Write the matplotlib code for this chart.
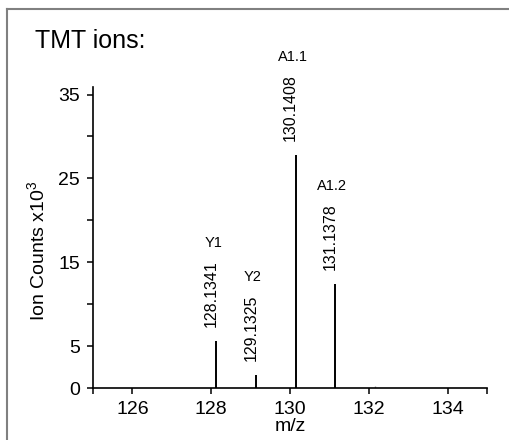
import matplotlib.pyplot as plt
from matplotlib.lines import Line2D

plt.rcParams['font.family'] = ['Liberation Sans', 'DejaVu Sans']
plt.rcParams['mathtext.fontset'] = 'custom'
plt.rcParams['mathtext.rm'] = 'Liberation Sans'

# peak data
peak_mz = [128.1341, 129.1325, 130.1408, 131.1378]
peak_counts = [5.6, 1.55, 27.8, 12.4]   # x10^3
peak_names = ['Y1', 'Y2', 'A1.1', 'A1.2']
noise_mz = [132.15]
noise_counts = [0.25]

x_ticks = [125, 126, 128, 130, 132, 134, 135]
x_ticklabels = ['', '126', '128', '130', '132', '134', '']
y_ticks = [0, 5, 10, 15, 20, 25, 30, 35]
y_ticklabels = ['0', '5', '', '15', '', '25', '', '35']

fig = plt.figure(figsize=(5.1, 4.4), dpi=100)
ax = fig.add_axes([93 / 510, 1 - 388 / 440, (487 - 93) / 510, (388 - 87) / 440])

ax.vlines(peak_mz, 0, peak_counts, color='black', lw=1.4)
ax.vlines(noise_mz, 0, noise_counts, color='#999999', lw=1.0)

for mz, h, name in zip(peak_mz, peak_counts, peak_names):
    ax.annotate(f'{mz:.4f}', (mz, h), xytext=(-5, 14), textcoords='offset pixels',
                rotation=90, ha='center', va='bottom', fontsize=11.5)
    ax.annotate(name, (mz, h), xytext=(-3, 91), textcoords='offset pixels',
                ha='center', va='bottom', fontsize=10.5)

ax.set_xlim(125, 135)
ax.set_ylim(0, 35.9)
ax.set_xticks(x_ticks)
ax.set_xticklabels(x_ticklabels)
ax.set_yticks(y_ticks)
ax.set_yticklabels(y_ticklabels)
ax.tick_params(axis='both', labelsize=14, length=4.5, width=1.1, direction='out')
ax.tick_params(axis='y', pad=5)
ax.tick_params(axis='x', pad=5)
for s in ['top', 'right']:
    ax.spines[s].set_visible(False)
for s in ['left', 'bottom']:
    ax.spines[s].set_linewidth(1.2)

fig.text(290 / 510, 1 - 431 / 440, 'm/z', fontsize=14, ha='center', va='baseline')
fig.text(38 / 510, 1 - 251 / 440, r'Ion Counts x10$^{\mathregular{3}}$', rotation=90,
         ha='center', va='center', fontsize=14)
fig.text(35 / 510, 1 - 48 / 440, 'TMT ions:', fontsize=18, ha='left', va='baseline')

# outer frame (left and top edges visible)
fig.add_artist(Line2D([7 / 510, 7 / 510], [0, 1 - 9 / 440], color='#808080', lw=1.5,
                      transform=fig.transFigure))
fig.add_artist(Line2D([7 / 510, 1], [1 - 9 / 440, 1 - 9 / 440], color='#808080', lw=1.5,
                      transform=fig.transFigure))

fig.savefig('out.png', dpi=100)
